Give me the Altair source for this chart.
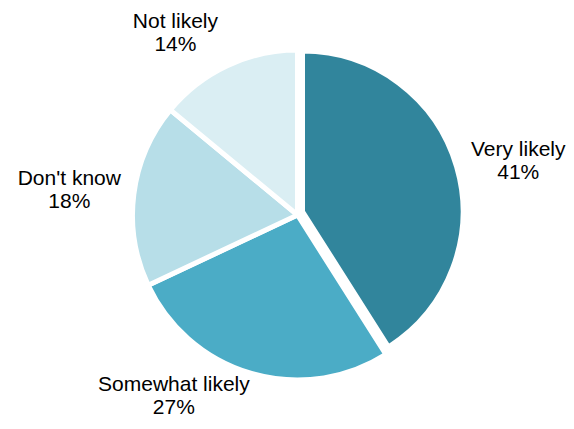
import altair as alt
import pandas as pd
import math

cats = ["Very likely", "Somewhat likely", "Don't know", "Not likely"]
vals = [41, 27, 18, 14]
pct_labels = ["41%", "27%", "18%", "14%"]
colors = ["#31859C", "#4BACC6", "#B7DEE8", "#DAEEF3"]

df = pd.DataFrame({
    "cat": cats,
    "value": vals,
    "order": list(range(len(cats))),
    "label": [c + "\n" + p for c, p in zip(cats, pct_labels)],
})
total = sum(vals)

base = alt.Chart(df).transform_window(
    v1="sum(value)", sort=[{"field": "order"}], frame=[None, 0]
).transform_calculate(
    v0="datum.v1 - datum.value", mid="(datum.v0 + datum.v1) / 2"
)

ts = alt.Scale(domain=[0, total], range=[0, 2 * math.pi])
cs = alt.Scale(domain=cats, range=colors)

# pie centre (chart coords) for the main pie and the exploded slice
CX, CY = 289.5, 207
EX, EY = 294.5, 203.5

others = base.transform_filter(alt.datum.cat != "Very likely").mark_arc(
    outerRadius=165, stroke="white", strokeWidth=5
).encode(
    theta=alt.Theta("v0:Q", scale=ts, stack=None),
    theta2="v1:Q",
    color=alt.Color("cat:N", scale=cs, legend=None),
    x=alt.value(CX), y=alt.value(CY),
)

exploded = base.transform_filter(alt.datum.cat == "Very likely").mark_arc(
    outerRadius=160.5, stroke="white", strokeWidth=5
).encode(
    theta=alt.Theta("v0:Q", scale=ts, stack=None),
    theta2="v1:Q",
    color=alt.Color("cat:N", scale=cs, legend=None),
    x=alt.value(EX), y=alt.value(EY),
)

offsets = {
    "Very likely": (1.8, -1.4),
    "Somewhat likely": (-60, -49),
    "Don't know": (-2, -7),
    "Not likely": (-25, 13),
}

texts = []
for c in cats:
    dx, dy = offsets[c]
    t = base.transform_filter(alt.datum.cat == c).mark_text(
        radius=228, dx=dx, dy=dy, fontSize=21, font="Liberation Sans",
        lineBreak="\n", lineHeight=23, align="center", baseline="middle",
        color="#000000",
    ).encode(
        theta=alt.Theta("mid:Q", scale=ts, stack=None),
        text="label:N",
        x=alt.value(CX), y=alt.value(CY),
    )
    texts.append(t)

chart = alt.layer(others, exploded, *texts).properties(
    width=558, height=413, padding=0, autosize="none"
).configure_view(stroke=None)

chart.save("out.html", embed_options={"renderer": "svg", "actions": False})
